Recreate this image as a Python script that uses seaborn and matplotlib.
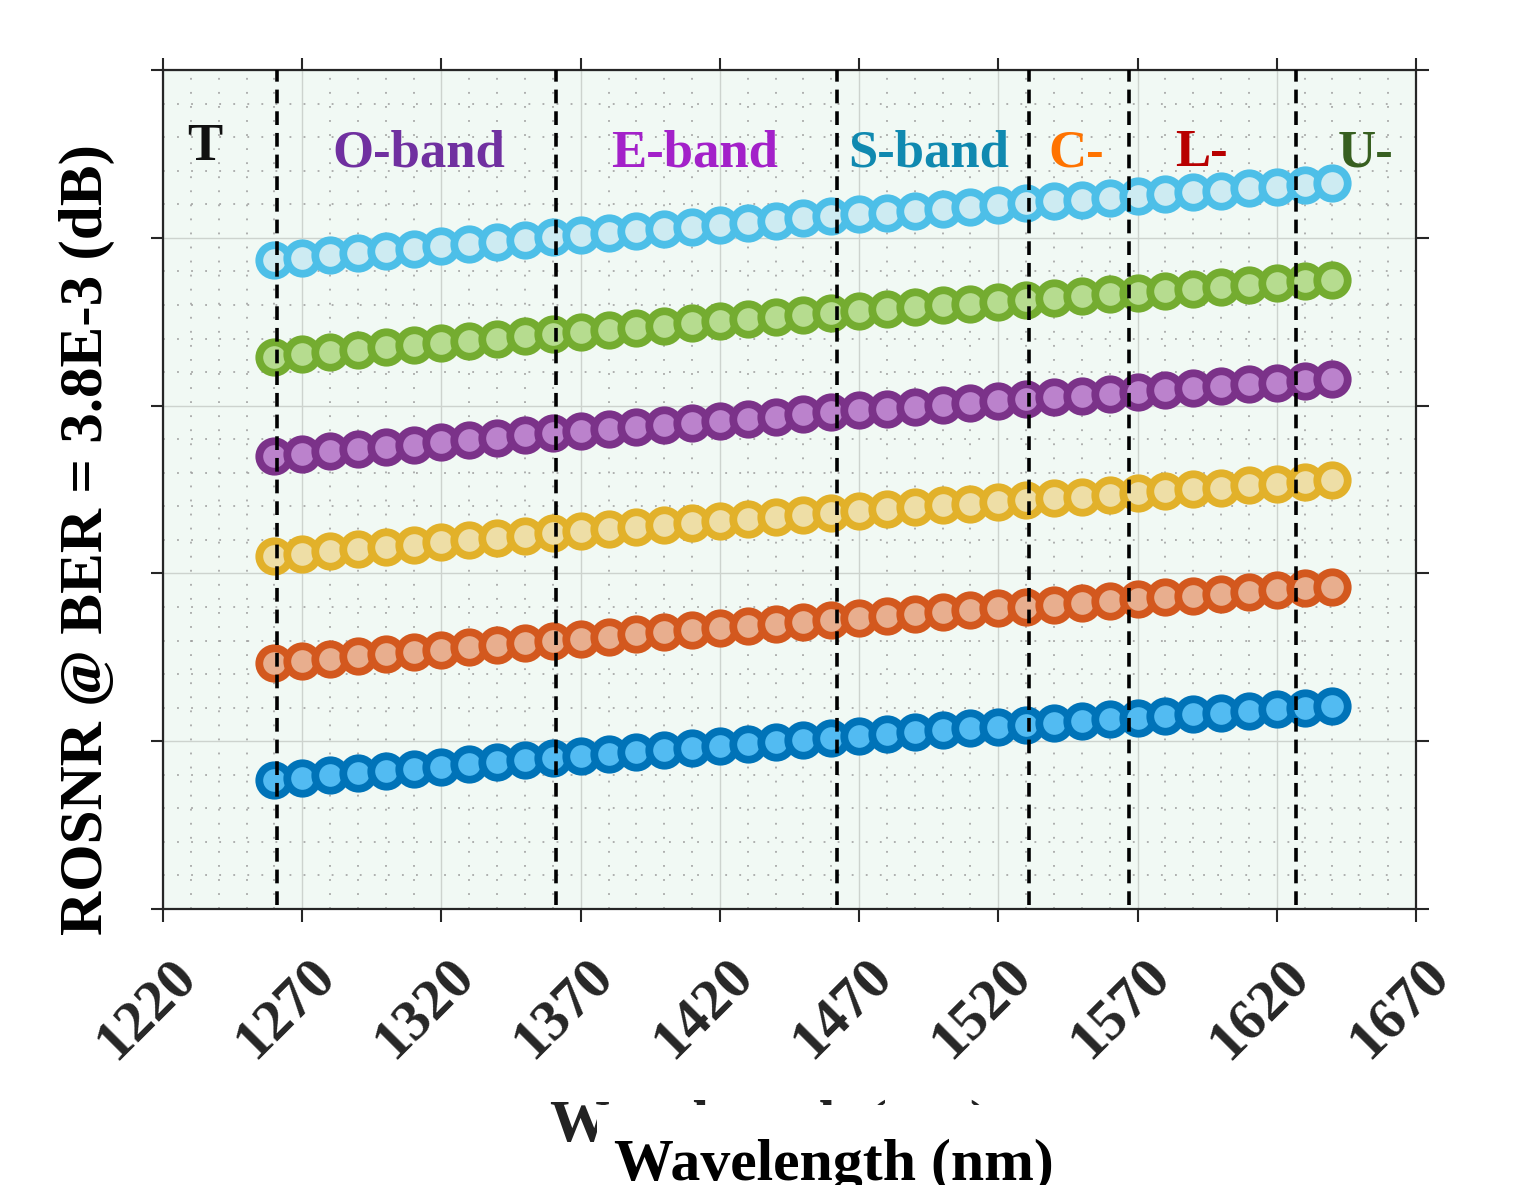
import matplotlib
matplotlib.use("Agg")
import matplotlib.pyplot as plt
import matplotlib.transforms as mtransforms
from matplotlib.patches import Rectangle
from matplotlib.ticker import MultipleLocator
import seaborn as sns

# data (ROSNR values in dB, y tick labels are hidden)
wavelength = [1260, 1270, 1280, 1290, 1300, 1310, 1320, 1330, 1340, 1350,
              1360, 1370, 1380, 1390, 1400, 1410, 1420, 1430, 1440, 1450,
              1460, 1470, 1480, 1490, 1500, 1510, 1520, 1530, 1540, 1550,
              1560, 1570, 1580, 1590, 1600, 1610, 1620, 1630, 1640]

rosnr_cyan = [29.34, 29.41, 29.48, 29.55, 29.62, 29.68, 29.75, 29.82, 29.88, 29.95,
              30.02, 30.08, 30.14, 30.20, 30.26, 30.33, 30.39, 30.45, 30.51, 30.58,
              30.64, 30.70, 30.75, 30.81, 30.87, 30.92, 30.98, 31.03, 31.09, 31.14,
              31.20, 31.25, 31.31, 31.36, 31.41, 31.47, 31.52, 31.58, 31.63]
rosnr_green = [26.46, 26.53, 26.60, 26.67, 26.74, 26.80, 26.87, 26.94, 27.00, 27.07,
               27.14, 27.20, 27.26, 27.32, 27.38, 27.45, 27.51, 27.57, 27.63, 27.70,
               27.76, 27.82, 27.87, 27.93, 27.99, 28.04, 28.10, 28.15, 28.21, 28.26,
               28.32, 28.37, 28.43, 28.48, 28.53, 28.59, 28.64, 28.70, 28.75]
rosnr_purple = [23.50, 23.57, 23.64, 23.71, 23.78, 23.84, 23.91, 23.98, 24.04, 24.11,
                24.18, 24.24, 24.30, 24.36, 24.42, 24.49, 24.55, 24.61, 24.67, 24.74,
                24.80, 24.86, 24.91, 24.97, 25.03, 25.08, 25.14, 25.19, 25.25, 25.30,
                25.36, 25.41, 25.47, 25.52, 25.57, 25.63, 25.68, 25.74, 25.79]
rosnr_yellow = [20.52, 20.59, 20.66, 20.73, 20.80, 20.86, 20.93, 21.00, 21.06, 21.12,
                21.19, 21.25, 21.31, 21.37, 21.43, 21.50, 21.56, 21.62, 21.68, 21.74,
                21.80, 21.86, 21.91, 21.97, 22.03, 22.08, 22.14, 22.19, 22.24, 22.29,
                22.35, 22.40, 22.46, 22.51, 22.56, 22.62, 22.67, 22.72, 22.77]
rosnr_orange = [17.32, 17.39, 17.46, 17.53, 17.60, 17.66, 17.73, 17.80, 17.86, 17.93,
                18.00, 18.06, 18.12, 18.18, 18.24, 18.31, 18.37, 18.43, 18.49, 18.56,
                18.62, 18.68, 18.73, 18.79, 18.85, 18.90, 18.96, 19.01, 19.07, 19.12,
                19.18, 19.23, 19.29, 19.34, 19.39, 19.45, 19.50, 19.56, 19.61]
rosnr_blue = [13.84, 13.91, 13.98, 14.04, 14.11, 14.17, 14.24, 14.31, 14.37, 14.44,
              14.50, 14.56, 14.62, 14.68, 14.74, 14.80, 14.86, 14.92, 14.98, 15.04,
              15.10, 15.16, 15.21, 15.27, 15.32, 15.38, 15.43, 15.49, 15.54, 15.59,
              15.65, 15.70, 15.75, 15.80, 15.85, 15.90, 15.95, 16.00, 16.05]

band_edges = [1261, 1361, 1462, 1531, 1567, 1627]
band_labels = ['T', 'O-band', 'E-band', 'S-band', 'C-', 'L-', 'U-']
band_label_x = [1235, 1312, 1411, 1495, 1548, 1593, 1652]
band_label_y = [32.32, 32.14, 32.14, 32.14, 32.14, 32.14, 32.14]
band_colors = ['#111111', '#7030a0', '#a321c9', '#1089b0', '#ff7300', '#b80000', '#375f20']

xticks_major = [1220, 1270, 1320, 1370, 1420, 1470, 1520, 1570, 1620, 1670]

series = [
    (rosnr_cyan, '#cdebf2', '#4dbfe8'),
    (rosnr_green, '#b6dc8f', '#74ac30'),
    (rosnr_purple, '#bb82cc', '#7b3289'),
    (rosnr_yellow, '#eedea6', '#e2b12a'),
    (rosnr_orange, '#e8ae8e', '#d3581e'),
    (rosnr_blue, '#52bbf2', '#0073b8'),
]

sns.set_theme(style="whitegrid")
plt.rcParams['font.family'] = ['Liberation Serif', 'DejaVu Serif']
plt.rcParams['font.weight'] = 'bold'

fig = plt.figure(figsize=(15.17, 11.85), dpi=100)
ax = fig.add_axes([0.1075, 0.2329, 0.8259, 0.7080])
ax.set_facecolor('#f1f9f4')

for vals, face, edge in series:
    sns.scatterplot(x=wavelength, y=vals, s=480, color=face, edgecolor=edge,
                    linewidth=5.6, ax=ax, zorder=3, legend=False)

# band boundaries
for b in band_edges:
    ax.axvline(b, ymin=0.005, ymax=1.0, color='black', lw=2.6,
               linestyle=(0, (3.8, 2.2)), zorder=4)

for lab, x, y, c in zip(band_labels, band_label_x, band_label_y, band_colors):
    ax.text(x, y, lab, color=c, fontsize=38, fontweight='bold',
            ha='center', va='baseline', zorder=5)

ax.set_xlim(1220, 1670)
ax.set_ylim(10, 35)
ax.set_xticks(xticks_major)
ax.set_xticklabels([str(t) for t in xticks_major], rotation=45, ha='center',
                   fontsize=42, fontweight='bold', color='#262626')
ax.xaxis.set_minor_locator(MultipleLocator(10))
ax.yaxis.set_major_locator(MultipleLocator(5))
ax.yaxis.set_minor_locator(MultipleLocator(1))
ax.set_xlabel('')
ax.set_ylabel('')

ax.grid(which='major', color='#cdd3ce', linewidth=1.0, linestyle='-')
ax.grid(which='minor', color='#9c9c9c', linewidth=1.1, linestyle=(0, (1.2, 8.0)))
ax.set_axisbelow(True)

for s in ax.spines.values():
    s.set_visible(True)
    s.set_color('#262626')
    s.set_linewidth(1.6)

ax.tick_params(which='major', direction='out', length=9, width=1.5, color='#262626',
               top=True, right=True, bottom=True, left=True,
               labelleft=False, labelright=False, labeltop=False, pad=20)
ax.tick_params(which='minor', length=0)

shift = mtransforms.ScaledTranslation(-17 / 100, 0, fig.dpi_scale_trans)
for lbl in ax.get_xticklabels():
    lbl.set_transform(lbl.get_transform() + shift)

# axis titles
fig.text(87 / 1517, 1 - 540 / 1185, 'ROSNR @ BER = 3.8E-3 (dB)', rotation=90,
         ha='center', va='center', fontsize=44, fontweight='bold', color='black')
fig.text(770 / 1517, 1 - 1141 / 1185, 'Wavelength (nm)', ha='center', va='baseline',
         fontsize=43, fontweight='bold', color='#222222', zorder=1)
fig.add_artist(Rectangle((597 / 1517, 0), (1130 - 597) / 1517, (1185 - 1105) / 1185,
                         transform=fig.transFigure, facecolor='white',
                         edgecolor='none', zorder=2))
fig.text(834 / 1517, 1 - 1180 / 1185, 'Wavelength (nm)', ha='center', va='baseline',
         fontsize=43, fontweight='bold', color='black', zorder=3)

fig.savefig('out.png', dpi=100)
